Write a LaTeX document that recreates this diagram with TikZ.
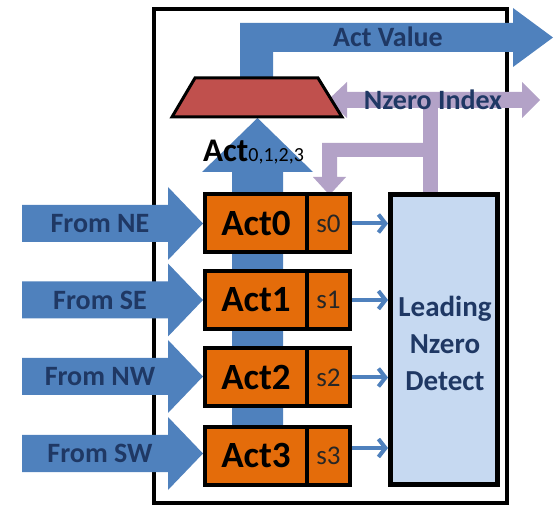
\documentclass[tikz,border=0pt]{standalone}
\usepackage{fontspec}
\setmainfont{Carlito}
\usetikzlibrary{arrows.meta}
\definecolor{flowblue}{HTML}{4F81BD}
\definecolor{regorange}{HTML}{E46C0A}
\definecolor{muxred}{HTML}{C0504D}
\definecolor{idxlav}{HTML}{B3A2C7}
\definecolor{detfill}{HTML}{C6D9F1}
\definecolor{navytext}{HTML}{1F3864}
\tikzset{
  actbox/.style={draw=black, line width=4pt, fill=regorange, minimum width=102pt,
    minimum height=58pt, inner sep=0pt, text=black,
    font=\fontsize{37}{40}\selectfont\bfseries},
  sbox/.style={draw=black, line width=4pt, fill=regorange, minimum width=43pt,
    minimum height=58pt, inner sep=0pt, text=black!85,
    font=\fontsize{27}{30}\selectfont},
  flowlabel/.style={text=navytext, inner sep=0pt,
    font=\fontsize{28}{30}\selectfont\bfseries},
  sarrow/.style={draw=flowblue, line width=4pt,
    -{Straight Barb[length=7pt,width=18pt]}},
}
\begin{document}
\begin{tikzpicture}[x=1pt, y=-1pt]
\useasboundingbox (0,0) rectangle (558,508);

% enclosing unit
\draw[line width=4pt, fill=white] (154,9) rectangle (507,503);

% wide output bus to the right
\fill[flowblue] (240,80) -- (240,23) -- (513,23) -- (513,8) -- (553,37.5)
  -- (513,67) -- (513,52) -- (273,52) -- (273,80) -- cycle;
\node[flowlabel] (actval) at (388,37) {Act Value};

% index bus (double headed) and its branches
\fill[idxlav] (328,100) -- (347,82) -- (347,92) -- (522,92) -- (522,82)
  -- (540,100) -- (522,118) -- (522,108) -- (347,108) -- (347,118) -- cycle;
\fill[idxlav] (423,106) rectangle (438,196);
\fill[idxlav] (322,143) -- (423,143) -- (423,157) -- (337,157) -- (337,177)
  -- (346,177) -- (329.5,195) -- (313,177) -- (322,177) -- cycle;
\node[flowlabel] (nzidx) at (433,100) {Nzero Index};

% vertical bus feeding the mux
\fill[flowblue] (232,480) -- (232,172) -- (202,172) -- (257.5,118) -- (313,172)
  -- (283,172) -- (283,480) -- cycle;

% mux
\draw[line width=3pt, fill=muxred] (195,78) -- (318,78) -- (342,117) -- (172,117) -- cycle;

\node[anchor=base west, inner sep=0pt] (actlbl) at (203,162)
  {\fontsize{33}{34}\selectfont\bfseries Act\fontsize{20}{22}\mdseries\selectfont 0,1,2,3};

% input arrows from the neighbours
\foreach \cy/\lbl/\nm in {223.5/From NE/ne, 300/From SE/se, 376.5/From NW/nw, 453.5/From SW/sw}{
  \fill[flowblue] (22,\cy-18.5) -- (168,\cy-18.5) -- (168,\cy-36.5) -- (203,\cy)
    -- (168,\cy+36.5) -- (168,\cy+18.5) -- (22,\cy+18.5) -- cycle;
  \node[flowlabel] (from\nm) at (100,\cy) {\lbl};
}

% activation registers with their status bits
\foreach \i/\cy in {0/223.5, 1/300, 2/377.5, 3/456}{
  \node[actbox] (act\i) at (256,\cy) {Act\i};
  \node[sbox] (s\i) at (328.5,\cy) {s\i};
}

% leading non-zero detector
\node[draw=black, line width=5pt, fill=detfill, minimum width=107pt,
  minimum height=290pt, inner sep=0pt] (det) at (444,339.5) {};
\node[text=navytext, align=center, font=\fontsize{29}{37}\selectfont\bfseries, inner sep=0pt]
  (detlbl) at (445,343) {Leading\\Nzero\\Detect};

% status bits into the detector
\coordinate (s3out) at ([yshift=8pt]s3.east);
\draw[sarrow] (s0.east) -- (det.west |- s0.east);
\draw[sarrow] (s1.east) -- (det.west |- s1.east);
\draw[sarrow] (s2.east) -- (det.west |- s2.east);
\draw[sarrow] (s3out) -- (det.west |- s3out);
\end{tikzpicture}
\end{document}
